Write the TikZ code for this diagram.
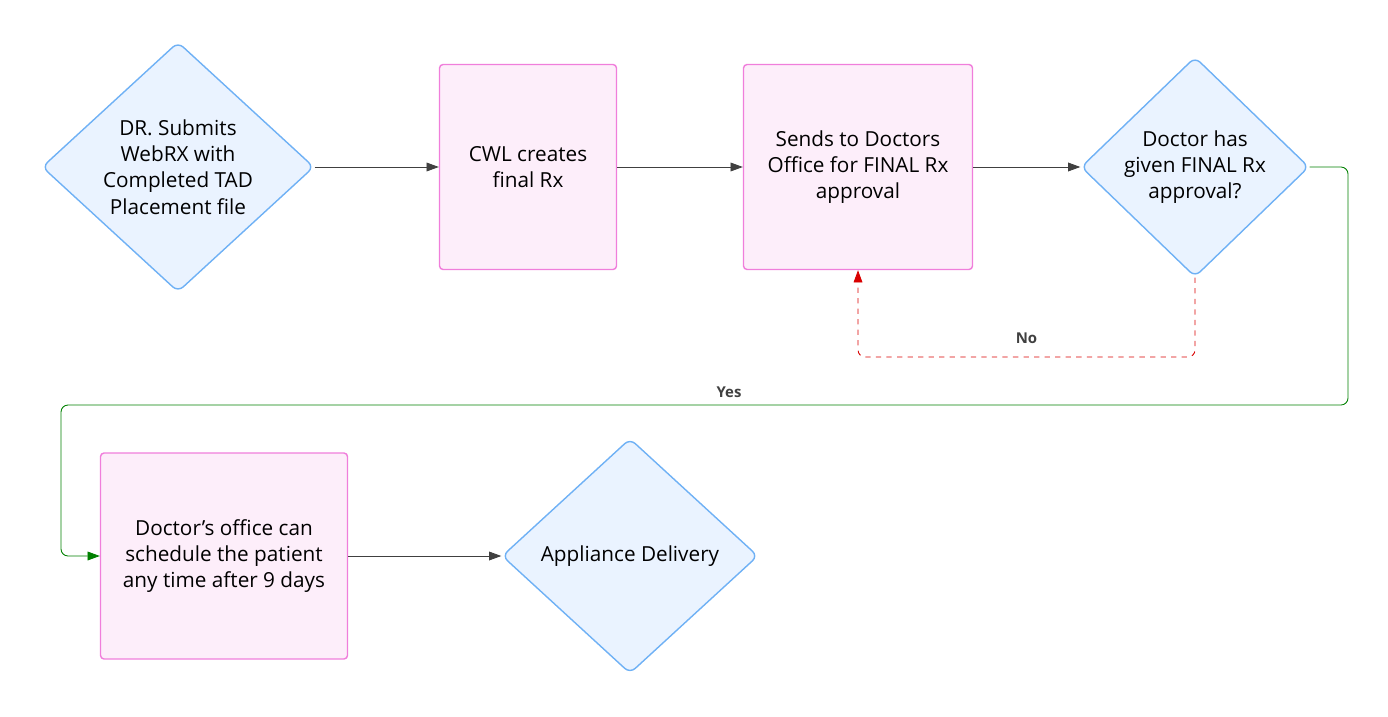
\documentclass[tikz,border=0pt]{standalone}
\usepackage{fontspec}
\setmainfont{Open Sans}
\usetikzlibrary{shapes.geometric}
\usetikzlibrary{arrows.meta}
\definecolor{choicefill}{HTML}{EAF3FF}
\definecolor{choiceline}{HTML}{6FB1F5}
\definecolor{boxfill}{HTML}{FDEEFA}
\definecolor{boxline}{HTML}{F07EDB}
\begin{document}
\begin{tikzpicture}[x = 0.02cm, y = -0.02cm,
  box/.style = {draw = boxline, fill = boxfill, rounded corners = 2pt, line width = 0.8pt,
    align = center, font = \fontsize{11.8}{15}\selectfont, inner sep = 0pt},
  choice/.style = {diamond, draw = choiceline, fill = choicefill, rounded corners = 4pt, line width = 0.8pt,
    align = center, font = \fontsize{11.8}{15}\selectfont, inner sep = 0pt},
  flow/.style = {draw = black!75, line width = 0.5pt, -{Triangle[length = 7pt, width = 5pt]}},
  tag/.style = {font = \bfseries\fontsize{8.5}{10}\selectfont, text = black!75}]
\useasboundingbox (0, 0) rectangle (1388, 716);

\node[choice, minimum width = 5.44cm, minimum height = 5cm] (submit) at (178, 167) {DR. Submits\\WebRX with\\Completed TAD\\Placement file};
\node[box, minimum width = 3.54cm, minimum height = 4.1cm] (create) at (528, 167) {CWL creates\\final Rx};
\node[box, minimum width = 4.58cm, minimum height = 4.1cm] (send) at (858, 167) {Sends to Doctors\\Office for FINAL Rx\\approval};
\node[choice, minimum width = 4.56cm, minimum height = 4.4cm] (given) at (1195, 167) {Doctor has\\given FINAL Rx\\approval?};
\node[box, minimum width = 4.94cm, minimum height = 4.12cm] (sched) at (224, 556) {Doctor’s office can\\schedule the patient\\any time after 9 days};
\node[choice, minimum width = 5.12cm, minimum height = 4.7cm] (deliv) at (630, 556) {Appliance Delivery};

\draw[flow] (submit) -- (create);
\draw[flow] (create) -- (send);
\draw[flow] (send) -- (given);
\draw[flow] (sched) -- (deliv);

% No loop
\draw[flow, draw = red!85!black, dashed, rounded corners = 4pt] (given.south) -- (1195, 357) -- (858, 357)
  node[tag, pos = 0.5, above = 4pt] {No} -- (send.south);

% Yes branch
\draw[flow, draw = green!50!black, rounded corners = 4pt] (given.east) -- (1348, 167) -- (1348, 405) -- (61, 405)
  -- (61, 556) -- (sched.west);
\node[tag] (yes) at (729, 392) {Yes};
\end{tikzpicture}
\end{document}
